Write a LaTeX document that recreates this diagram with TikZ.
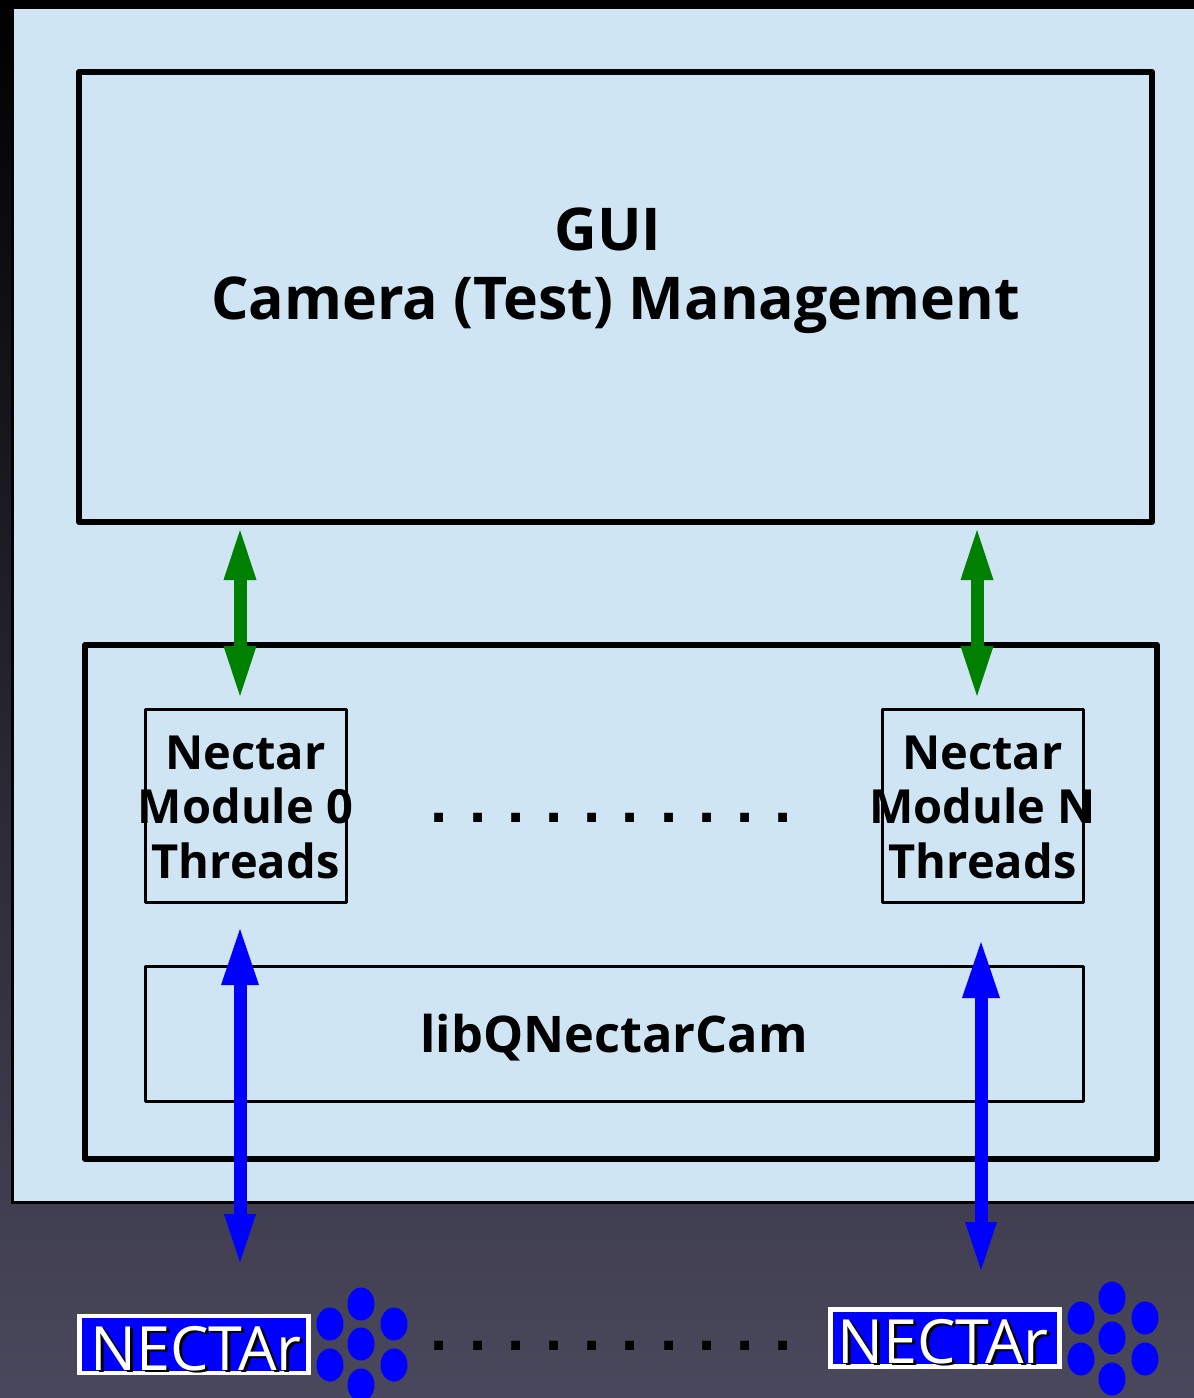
\documentclass[tikz,border=0pt]{standalone}
\usepackage{fontspec}
\setmainfont{Open Sans}
\newfontfamily\logofont{Open Sans}
\newfontfamily\dotfont{Liberation Sans}
\usetikzlibrary{arrows.meta}
\definecolor{panelblue}{HTML}{CFE5F3}
\definecolor{arrowgreen}{HTML}{008000}
\definecolor{arrowblue}{HTML}{0000FF}
\definecolor{slatemiddle}{HTML}{14142A}
\definecolor{slatebottom}{HTML}{4A485C}
\tikzset{
  heavybox/.style={draw=black,line width=6pt,line join=round,fill=none},
  thinbox/.style={draw=black,line width=3pt,line join=round,fill=none},
  boxtext/.style={font=\fontsize{59}{69}\selectfont\bfseries,align=center,text=black},
  modtext/.style={font=\fontsize{47}{54.5}\selectfont\bfseries,align=center,text=black,inner sep=0pt},
  libtext/.style={font=\fontsize{50.5}{60}\selectfont\bfseries,text=black,inner sep=0pt},
  dotmark/.style={font=\dotfont\fontsize{62}{62}\selectfont\bfseries,inner sep=0pt,text=black},
  greenlink/.style={arrowgreen,line width=13pt,{Triangle[length=50pt,width=33pt,line width=0pt]}-{Triangle[length=50pt,width=33pt,line width=0pt]}},
  bluelink/.style={arrowblue,line width=13pt,{Triangle[length=56pt,width=38pt,line width=0pt]}-{Triangle[length=48pt,width=32pt,line width=0pt]}},
  logobox/.style={draw=white,line width=4.5pt,fill=arrowblue,minimum width=229pt,minimum height=57pt,inner sep=0pt},
  logotext/.style={font=\logofont\fontsize{61}{61}\selectfont,inner sep=0pt}
}
\newcommand{\logodots}[2]{%
  \foreach \dx/\dy in {-31/-20,33/-20,0/-40,0/0,-31/21,33/21,0/41}
    \fill[arrowblue] (#1+\dx,#2+\dy) ellipse (13.5 and 16.5);
}
\begin{document}
\begin{tikzpicture}[x=1pt,y=-1pt]
  \useasboundingbox (0,0) rectangle (1194,1398);
  % background
  \shade[top color=black,middle color=slatemiddle,bottom color=slatebottom] (0,0) rectangle (1194,1398);
  \draw[draw=black,line width=3pt,fill=panelblue] (12.5,7.5) rectangle (1210,1202);

  \node[heavybox,minimum width=1073pt,minimum height=450pt] (gui) at (615.5,297) {};
  \node[boxtext] (guitext) at (615.5,271) {GUI\hspace*{15pt}\\Camera (Test) Management};

  \node[heavybox,minimum width=1072pt,minimum height=514pt] (lib) at (621,902) {};
  \node[thinbox,minimum width=201pt,minimum height=193pt] (modzero) at (245.5,805.5) {};
  \node[thinbox,minimum width=201pt,minimum height=193pt] (modn) at (982.5,805.5) {};
  \node[modtext] (modzerotext) at (245.5,807) {Nectar\\Module 0\\Threads};
  \node[modtext] (modntext) at (982.5,807) {Nectar\\Module N\\Threads};
  \node[thinbox,minimum width=938pt,minimum height=135pt] (qcam) at (614,1033.5) {};
  \node[libtext] (qcamtext) at (614,1038) {libQNectarCam};

  \foreach \x [count=\i] in {439.5,477.7,515.9,554.1,592.3,630.5,668.7,706.9,745.1,783.5} {
    \node[dotmark] (moddot\i) at (\x,818) {.};
    \node[dotmark] (camdot\i) at (\x,1346) {.};
  }

  \coordinate (guileft) at (240,530);
  \coordinate (modleft) at (240,696);
  \coordinate (guiright) at (977,530);
  \coordinate (modright) at (977,696);
  \coordinate (libleft) at (240,929);
  \coordinate (camleft) at (240,1262);
  \coordinate (libright) at (981,942);
  \coordinate (camright) at (981,1270);
  \draw[greenlink] (guileft) -- (modleft);
  \draw[greenlink] (guiright) -- (modright);
  \draw[bluelink] (libleft) -- (camleft);
  \draw[bluelink] (libright) -- (camright);

  % logos
  \node[logobox] (camzero) at (194,1344.5) {};
  \node[logotext,text=black] (camzeroshade) at (199,1351) {NECTAr};
  \node[logotext,text=white] (camzerotext) at (196,1349) {NECTAr};
  \logodots{361}{1344}
  \node[logobox] (camn) at (945,1338) {};
  \node[logotext,text=black] (camnshade) at (946,1344) {NECTAr};
  \node[logotext,text=white] (camntext) at (943,1342) {NECTAr};
  \logodots{1112}{1338}
\end{tikzpicture}
\end{document}
